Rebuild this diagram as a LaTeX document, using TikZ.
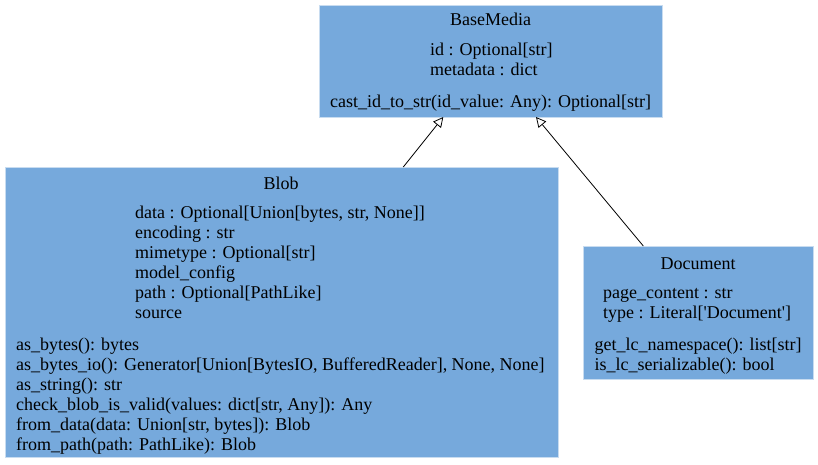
\documentclass[tikz,border=0pt]{standalone}
\usepackage{fontspec}
\setmainfont{Liberation Serif}
\usepackage{tikz}
\usetikzlibrary{arrows.meta}

\definecolor{boxblue}{RGB}{118,169,220}
\definecolor{boxedge}{RGB}{200,220,240}

\tikzset{
	classbox/.style={draw=boxedge, fill=boxblue, line width=0.8pt, anchor=north west, inner sep=0pt},
	txt/.style={inner sep=0pt, font=\fontsize{18}{20}\selectfont},
	line/.style={anchor=base west, txt},
	title/.style={anchor=base, txt},
	inherit/.style={-{Triangle[open, length=10pt, width=10pt]}, line width=0.8pt, black}
}

\begin{document}
\begin{tikzpicture}[x=1pt, y=-1pt]
	\useasboundingbox (0,0) rectangle (818,465);

	\node[classbox, minimum width=343.5pt, minimum height=112pt] (basemedia) at (318.5,5) {};
	\node[title] (basemedianame) at (490.5,26) {BaseMedia};
	\node[line] (bmid) at (430,56) {id : Optional[str]};
	\node[line] (bmmeta) at (430,76) {metadata : dict};
	\node[line] (bmcast) at (330,108) {cast\_id\_to\_str(id\_value: Any): Optional[str]};

	\node[classbox, minimum width=553pt, minimum height=290pt] (blob) at (5,167) {};
	\node[title] (blobname) at (281,189) {Blob};
	\node[line] (bldata) at (135,218) {data : Optional[Union[bytes, str, None]]};
	\node[line] (blenc) at (135,238) {encoding : str};
	\node[line] (blmime) at (135,258) {mimetype : Optional[str]};
	\node[line] (blmodel) at (135,278) {model\_config};
	\node[line] (blpath) at (135,298) {path : Optional[PathLike]};
	\node[line] (blsource) at (135,318) {source};
	\node[line] (blbytes) at (16,350) {as\_bytes(): bytes};
	\node[line] (blbytesio) at (16,370) {as\_bytes\_io(): Generator[Union[BytesIO, BufferedReader], None, None]};
	\node[line] (blstring) at (16,390) {as\_string(): str};
	\node[line] (blcheck) at (16,410) {check\_blob\_is\_valid(values: dict[str, Any]): Any};
	\node[line] (blfromdata) at (16,430) {from\_data(data: Union[str, bytes]): Blob};
	\node[line] (blfrompath) at (16,450) {from\_path(path: PathLike): Blob};

	\node[classbox, minimum width=230pt, minimum height=133pt] (document) at (583,246) {};
	\node[title] (documentname) at (698,269) {Document};
	\node[line] (dcpage) at (603,298) {page\_content : str};
	\node[line] (dctype) at (603,318) {type : Literal[\textquotesingle Document\textquotesingle]};
	\node[line] (dcns) at (594.5,350) {get\_lc\_namespace(): list[str]};
	\node[line] (dcser) at (594.5,370) {is\_lc\_serializable(): bool};

	\coordinate (blobtop) at (403.3,167);
	\coordinate (documenttop) at (643.3,246);
	\coordinate (basemedialeft) at (443.3,117);
	\coordinate (basemediaright) at (536,117);
	\draw[inherit] (blobtop) -- (basemedialeft);
	\draw[inherit] (documenttop) -- (basemediaright);
\end{tikzpicture}
\end{document}
